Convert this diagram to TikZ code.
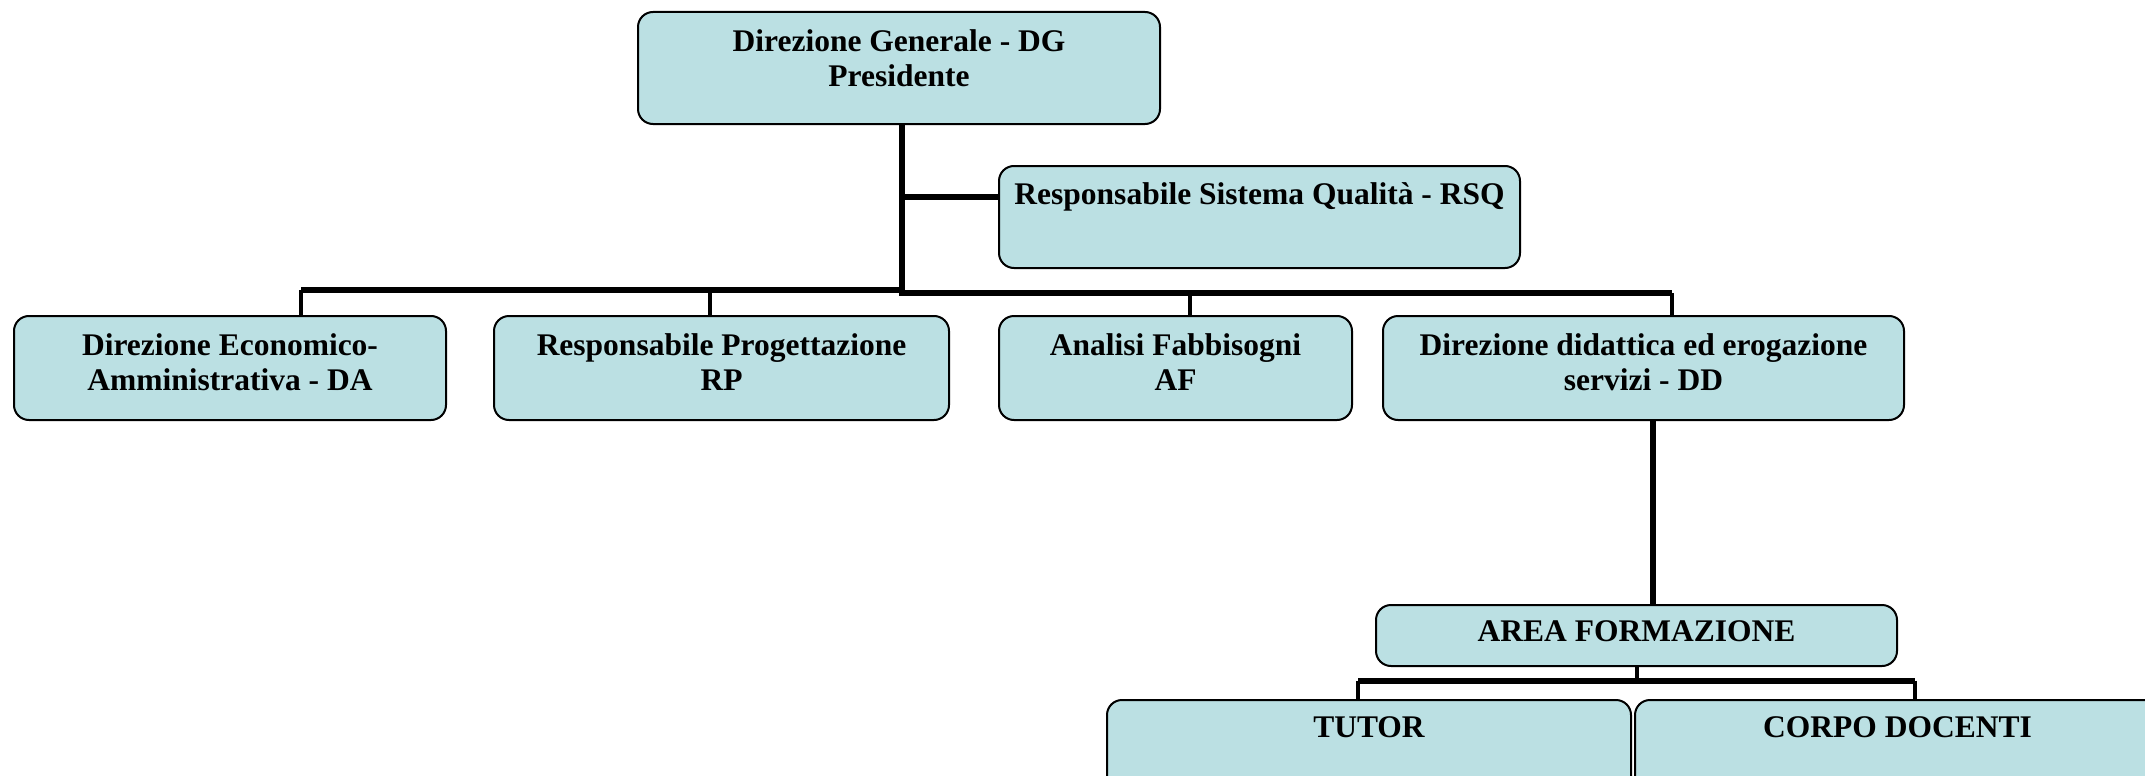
\documentclass[tikz,border=0pt]{standalone}
\usepackage{fontspec}
\setmainfont{Liberation Serif}
\definecolor{boxfill}{RGB}{187,224,227}
\tikzset{
  orgbox/.style={draw=black, line width=2pt, fill=boxfill, rounded corners=15pt, inner sep=0pt, outer sep=0pt},
  lbl/.style={anchor=north, inner sep=0pt, align=center, font=\bfseries\fontsize{31.5}{35}\selectfont},
  bus/.style={line width=6pt, draw=black},
  drop/.style={line width=4.5pt, draw=black},
}
\begin{document}
\begin{tikzpicture}[x=1pt, y=-1pt]
\useasboundingbox (0,0) rectangle (2145,776);
\begin{scope}
\clip (0,0) rectangle (2145,776);
\coordinate (j) at (902,0);
\coordinate (bl) at (301,289.5);
\coordinate (br) at (1672,293);
\coordinate (b2l) at (1358,680.5);
\coordinate (b2r) at (1915,680.5);
\coordinate (b2c) at (1637,680.5);
% boxes
\node[orgbox, minimum width=522pt, minimum height=112pt] (dg) at (899,68) {};
\node[orgbox, minimum width=521pt, minimum height=102pt] (rsq) at (1259.5,217) {};
\node[orgbox, minimum width=432pt, minimum height=104pt] (da) at (230,368) {};
\node[orgbox, minimum width=455pt, minimum height=104pt] (rp) at (721.5,368) {};
\node[orgbox, minimum width=353pt, minimum height=104pt] (af) at (1175.5,368) {};
\node[orgbox, minimum width=521pt, minimum height=104pt] (dd) at (1643.5,368) {};
\node[orgbox, minimum width=521pt, minimum height=61pt] (area) at (1636.5,635.5) {};
\node[orgbox, minimum width=524pt, minimum height=110pt] (tutor) at (1369,755) {};
\node[orgbox, minimum width=525pt, minimum height=110pt] (corpo) at (1897.5,755) {};
% connectors
\draw[bus] (dg.south -| j) -- (j |- br) -- (br);
\draw[bus] (j |- bl) -- (bl);
\draw[bus] (j |- 0,197) -- ([yshift=20pt]rsq.west);
\draw[drop] (bl) -- (bl |- da.north);
\draw[drop] ([xshift=-11.5pt]rp.north |- bl) -- ([xshift=-11.5pt]rp.north);
\draw[drop] ([xshift=14.5pt]af.north |- br) -- ([xshift=14.5pt]af.north);
\draw[drop] (br) -- (br |- dd.north);
\draw[bus] ([xshift=9.5pt]dd.south) -- ([xshift=9.5pt]dd.south |- area.north);
\draw[drop] (area.south -| b2c) -- (b2c);
\draw[bus] (b2l) -- (b2r);
\draw[drop] (b2l) -- (b2l |- tutor.north);
\draw[drop] (b2r) -- (b2r |- corpo.north);
% labels
\node[lbl] (dgt) at ([yshift=-17pt]dg.north) {Direzione Generale - DG\\Presidente};
\node[lbl] (rsqt) at ([yshift=-16pt]rsq.north) {Responsabile Sistema Qualità - RSQ};
\node[lbl] (dat) at ([yshift=-17pt]da.north) {Direzione Economico-\\Amministrativa - DA};
\node[lbl] (rpt) at ([yshift=-17pt]rp.north) {Responsabile Progettazione\\RP};
\node[lbl] (aft) at ([yshift=-17pt]af.north) {Analisi Fabbisogni\\AF};
\node[lbl] (ddt) at ([yshift=-17pt]dd.north) {Direzione didattica ed erogazione\\servizi - DD};
\node[lbl] (areat) at ([yshift=-15pt]area.north) {AREA FORMAZIONE};
\node[lbl] (tutort) at ([yshift=-16pt]tutor.north) {TUTOR};
\node[lbl] (corpot) at ([yshift=-16pt]corpo.north) {CORPO DOCENTI};
\end{scope}
\end{tikzpicture}
\end{document}
